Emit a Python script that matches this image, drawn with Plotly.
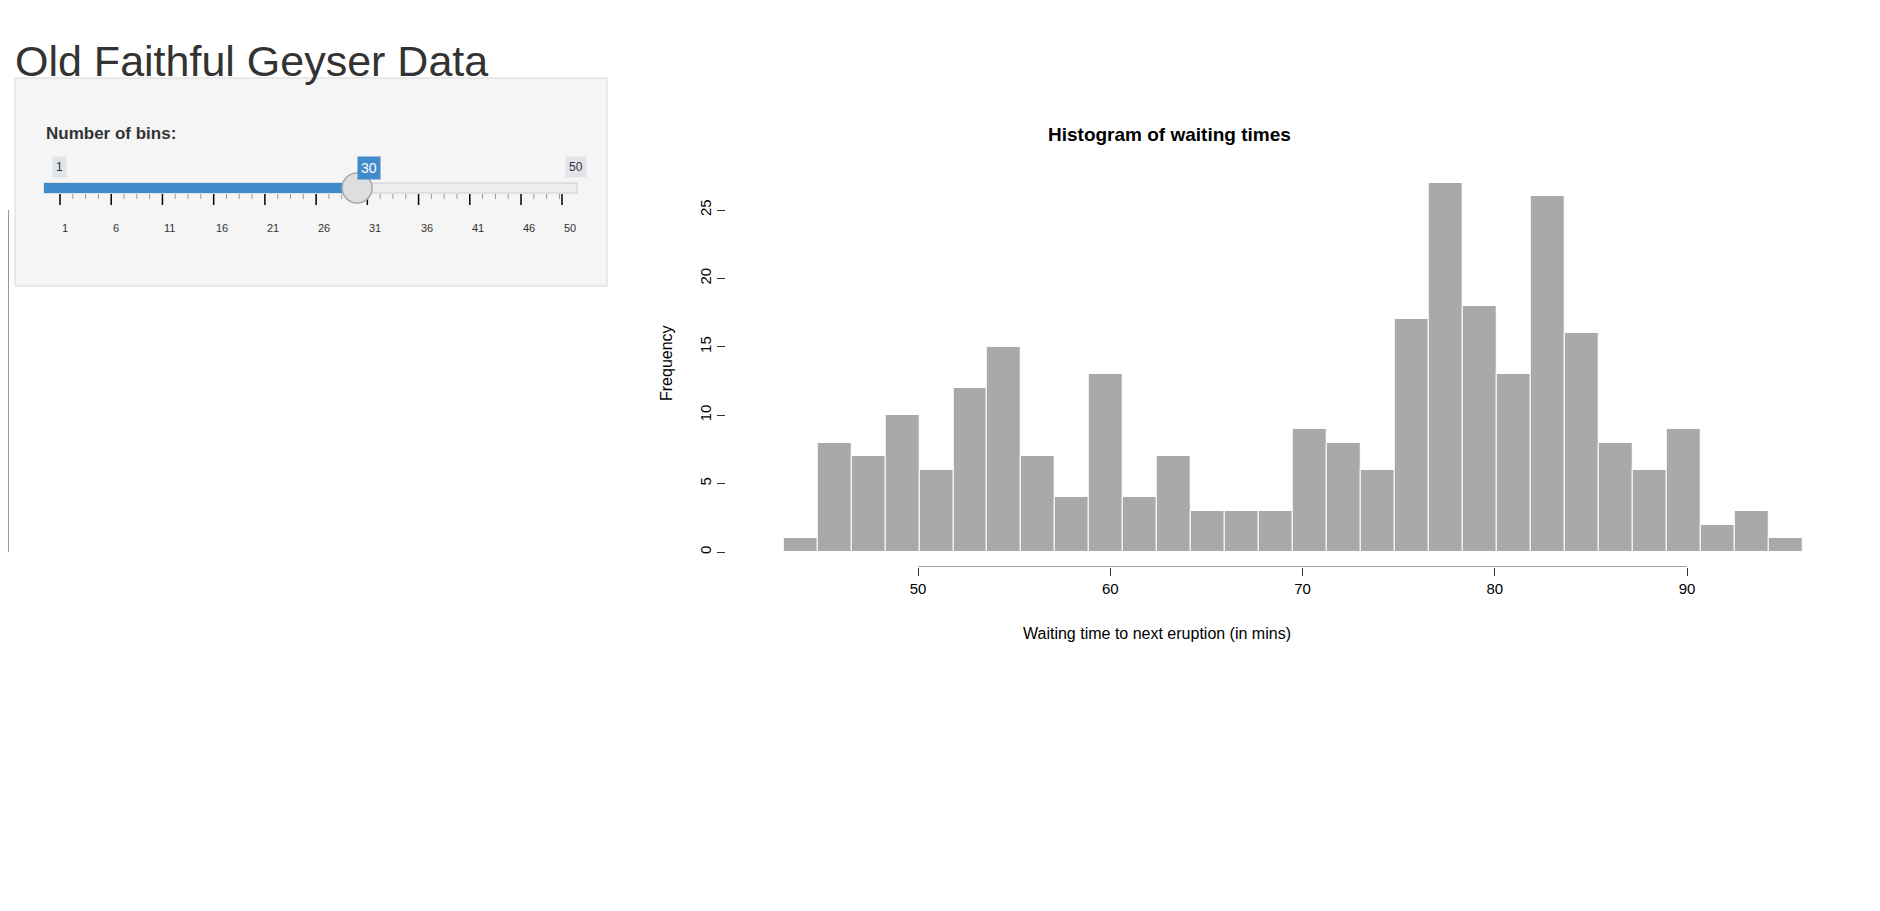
"""Shiny-style Old Faithful page: bin slider and waiting-time histogram."""
import plotly.graph_objects as go

W, H = 1880, 911

# histogram of waiting times, 30 bins from 43 to 96
counts = [1, 8, 7, 10, 6, 12, 15, 7, 4, 13, 4, 7, 3, 3, 3,
          9, 8, 6, 17, 27, 18, 13, 26, 16, 8, 6, 9, 2, 3, 1]
wait_min, wait_max = 43, 96
x_ticks = [50, 60, 70, 80, 90]
y_ticks = [0, 5, 10, 15, 20, 25]

# slider
n_bins = 30
slider_min, slider_max = 1, 50
slider_labels = [1, 6, 11, 16, 21, 26, 31, 36, 41, 46, 50]

width = (wait_max - wait_min) / len(counts)
centers = [wait_min + width * (i + 0.5) for i in range(len(counts))]


def px(x):
    return x / W


def py(y):
    return 1 - y / H


fig = go.Figure()
fig.add_trace(go.Bar(
    x=centers, y=counts, width=[width] * len(counts),
    marker=dict(color="#a9a9a9", line=dict(color="white", width=1)),
    hoverinfo="x+y", showlegend=False,
))

font = "Liberation Sans, Arial, sans-serif"
shapes = []
annotations = []

# axes drawn R-style
shapes.append(dict(type="line", xref="x", yref="y", x0=50, x1=90, y0=-1.1, y1=-1.1,
                   line=dict(color="#333", width=1)))
shapes.append(dict(type="line", xref="paper", yref="y", x0=0, x1=0, y0=0, y1=25,
                   line=dict(color="#333", width=1)))

# panel
shapes.append(dict(type="rect", xref="paper", yref="paper", x0=px(7), x1=px(599),
                   y0=py(278), y1=py(70), fillcolor="#f5f5f5", line=dict(color="#e3e3e3", width=1.5),
                   layer="below"))
# slider track
shapes.append(dict(type="rect", xref="paper", yref="paper", x0=px(36), x1=px(569), y0=py(185), y1=py(175),
                   fillcolor="#ededed", line=dict(color="#cccccc", width=1)))


def sx(v):
    return 52 + (v - slider_min) * (554 - 52) / (slider_max - slider_min)


shapes.append(dict(type="rect", xref="paper", yref="paper", x0=px(36), x1=px(sx(n_bins)), y0=py(185), y1=py(175),
                   fillcolor="#428bca", line=dict(width=0)))
# ticks
v = slider_min
while v <= slider_max + 1e-9:
    major = abs((v - 1) % 5) < 1e-9 or v == slider_max
    shapes.append(dict(type="line", xref="paper", yref="paper", x0=px(sx(v)), x1=px(sx(v)),
                       y0=py(186), y1=py(197 if major else 191),
                       line=dict(color="#000" if major else "#999", width=1.5 if major else 1)))
    v += 1.25
shapes.append(dict(type="line", xref="paper", yref="paper", x0=px(sx(50)), x1=px(sx(50)),
                   y0=py(186), y1=py(197), line=dict(color="#000", width=1.5)))
for lab in slider_labels:
    annotations.append(dict(x=px(sx(lab)), y=py(212), xref="paper", yref="paper", text=str(lab),
                            showarrow=False, font=dict(size=11, color="#333", family=font)))
# handle
shapes.append(dict(type="circle", xref="paper", yref="paper", x0=px(sx(n_bins) - 15), x1=px(sx(n_bins) + 15),
                   y0=py(195), y1=py(165), fillcolor="#dedede", line=dict(color="#aaaaaa", width=1.5)))
# badges
for val, bg, fg in [(slider_min, "#e1e4e9", "#333"), (n_bins, "#428bca", "white"), (slider_max, "#e1e4e9", "#333")]:
    cx = {slider_min: 44, n_bins: sx(n_bins), slider_max: 557}[val]
    annotations.append(dict(x=px(cx), y=py(148), xref="paper", yref="paper", text=str(val),
                            showarrow=False, bgcolor=bg, borderpad=3,
                            font=dict(size=14 if val == n_bins else 12, color=fg, family=font)))

annotations.append(dict(x=px(5), y=py(27), xref="paper", yref="paper", xanchor="left", text="Old Faithful Geyser Data",
                        showarrow=False, font=dict(size=43, color="#333", family=font)))
annotations.append(dict(x=px(36), y=py(114), xref="paper", yref="paper", xanchor="left", text="<b>Number of bins:</b>",
                        showarrow=False, font=dict(size=17, color="#333", family=font)))
annotations.append(dict(x=px(1285), y=py(114), xref="paper", yref="paper", text="<b>Histogram of waiting times</b>",
                        showarrow=False, font=dict(size=19, color="#000", family=font)))
annotations.append(dict(x=px(1285), y=py(636), xref="paper", yref="paper", text="Waiting time to next eruption (in mins)",
                        showarrow=False, font=dict(size=16, color="#000", family=font)))
annotations.append(dict(x=px(658), y=py(355), xref="paper", yref="paper", text="Frequency", textangle=-90,
                        showarrow=False, font=dict(size=16, color="#000", family=font)))

# x: 50 -> 910px, 90 -> 1679px ; y: 0 -> 544px, 25 -> 202px
xs = (1679 - 910) / 40
x_lo, x_hi = 40, 98
ys = (544 - 202) / 25
y_lo, y_hi = -1.1, 28

fig.update_layout(
    width=W, height=H, margin=dict(l=0, r=0, t=0, b=0),
    paper_bgcolor="white", plot_bgcolor="white",
    bargap=0, shapes=shapes, annotations=annotations,
    font=dict(family=font, color="#000"),
    xaxis=dict(domain=[px(910 + (x_lo - 50) * xs), px(910 + (x_hi - 50) * xs)], range=[x_lo, x_hi],
               tickvals=x_ticks, ticks="outside", ticklen=8, tickcolor="#333",
               showgrid=False, zeroline=False, showline=False, tickfont=dict(size=15)),
    yaxis=dict(domain=[py(544 - y_lo * ys), py(544 - y_hi * ys)], range=[y_lo, y_hi],
               tickvals=y_ticks, ticks="outside", ticklen=8, tickcolor="#333", tickangle=-90,
               showgrid=False, zeroline=False, showline=False, tickfont=dict(size=15)),
)

fig.write_html("out.html")
